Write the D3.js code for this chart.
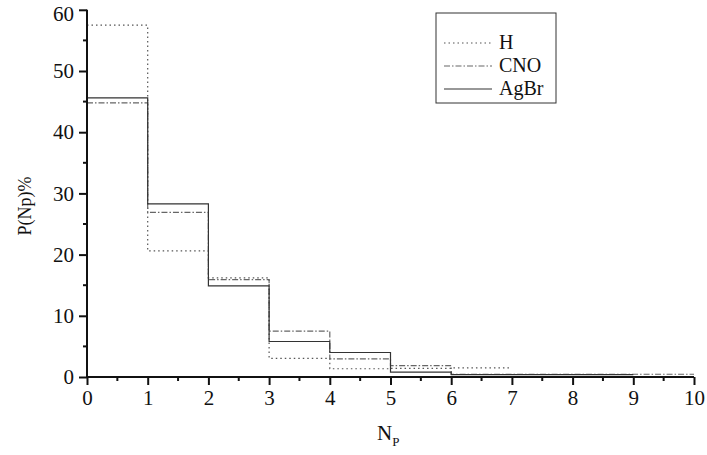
<!DOCTYPE html>
<html><head><meta charset="utf-8">
<script src="https://cdn.jsdelivr.net/npm/d3@7"></script>
<style>body{margin:0;background:#fff}svg{display:block}text{font-family:"Liberation Serif","Times New Roman",serif}</style>
</head><body><svg id="c" width="707" height="455"></svg>
<script>
const bins = [0,1,2,3,4,5,6,7,8,9];
const seriesNames = ["H","CNO","AgBr"];
const hValues    = [57.5,20.6,16.2,3.05,1.35,1.4,1.5];
const cnoValues  = [44.8,26.9,15.9,7.5,2.95,1.85,0.45,0.45,0.45,0.45];
const agbrValues = [45.6,28.3,14.9,5.8,4.0,0.8,0.4,0.4,0.4];
const xTicks = [0,1,2,3,4,5,6,7,8,9,10];
const yTicks = [0,10,20,30,40,50,60];

const svg = d3.select("#c");
const x = d3.scaleLinear().domain([0,10]).range([87,694]);
const y = d3.scaleLinear().domain([0,60]).range([377,9.8]);

const styles = {
  H:   {stroke:"#555", dash:"1.5,3", width:1.2},
  CNO: {stroke:"#666", dash:"6,2,1.5,2", width:1.2},
  AgBr:{stroke:"#333", dash:null, width:1.2}
};
const data = {H:hValues, CNO:cnoValues, AgBr:agbrValues};

function stepPts(vals){
  const pts=[];
  vals.forEach((v,i)=>{pts.push([bins[i],v]);pts.push([bins[i]+1,v]);});
  return pts;
}
const line = d3.line().x(d=>x(d[0])).y(d=>y(d[1]));
seriesNames.forEach(n=>{
  const s=styles[n];
  svg.append("path").attr("d",line(stepPts(data[n])))
    .attr("fill","none").attr("stroke",s.stroke).attr("stroke-width",s.width)
    .attr("stroke-dasharray",s.dash);
});

// axes
const xAxis = d3.axisBottom(x).tickValues(xTicks).tickSize(8).tickPadding(4).tickFormat(d3.format("d"));
const gx = svg.append("g").attr("transform",`translate(0,${y(0)})`).call(xAxis);
gx.append("g").selectAll("line").data(d3.range(0.5,10,1)).join("line")
  .attr("x1",d=>x(d)).attr("x2",d=>x(d)).attr("y1",0).attr("y2",4).attr("stroke","#111").attr("stroke-width",2);
const yAxis = d3.axisLeft(y).tickValues(yTicks).tickSize(8).tickPadding(5).tickFormat(d3.format("d"));
const gy = svg.append("g").attr("transform",`translate(${x(0)},0)`).call(yAxis);
gy.append("g").selectAll("line").data(d3.range(5,60,10)).join("line")
  .attr("y1",d=>y(d)).attr("y2",d=>y(d)).attr("x1",0).attr("x2",-4).attr("stroke","#111").attr("stroke-width",2);
[gx,gy].forEach(g=>{
  g.attr("font-size",null).attr("font-family",null);
  g.select(".domain").attr("stroke","#111").attr("stroke-width",2).attr("d", g===gx?`M${x(0)},0H${x(10)}`:`M0,${y(0)}V${y(60)}`);
  g.selectAll(".tick line").attr("stroke","#111").attr("stroke-width",2);
  g.selectAll(".tick text").style("font-size","21px").attr("fill","#111").style("font-family","'Liberation Serif',serif");
});
gx.selectAll(".tick text").attr("dy","0.78em");
gy.selectAll(".tick text").filter(d=>d===60).attr("dy","0.5em");

// axis labels
svg.append("text").attr("transform","translate(25,206) rotate(-90)").attr("text-anchor","middle").attr("dy","0.35em")
  .style("font-size","18px").attr("fill","#111").text("P(Np)%");
const xl = svg.append("text").attr("x",377).attr("y",440).style("font-size","21px").attr("fill","#111");
xl.append("tspan").text("N");
xl.append("tspan").style("font-size","13px").attr("dy",6).text("P");

// legend
const lg = svg.append("g");
lg.append("rect").attr("x",436).attr("y",13).attr("width",120).attr("height",90)
  .attr("fill","#fff").attr("stroke","#333").attr("stroke-width",1);
seriesNames.forEach((n,i)=>{
  const yy = 43 + i*23;
  const s=styles[n];
  lg.append("line").attr("x1",444).attr("x2",492).attr("y1",yy).attr("y2",yy)
    .attr("stroke",s.stroke).attr("stroke-width",s.width).attr("stroke-dasharray",s.dash);
  lg.append("text").attr("x",499).attr("y",yy+6).style("font-size","20px").attr("fill","#111").text(n);
});
</script></body></html>
